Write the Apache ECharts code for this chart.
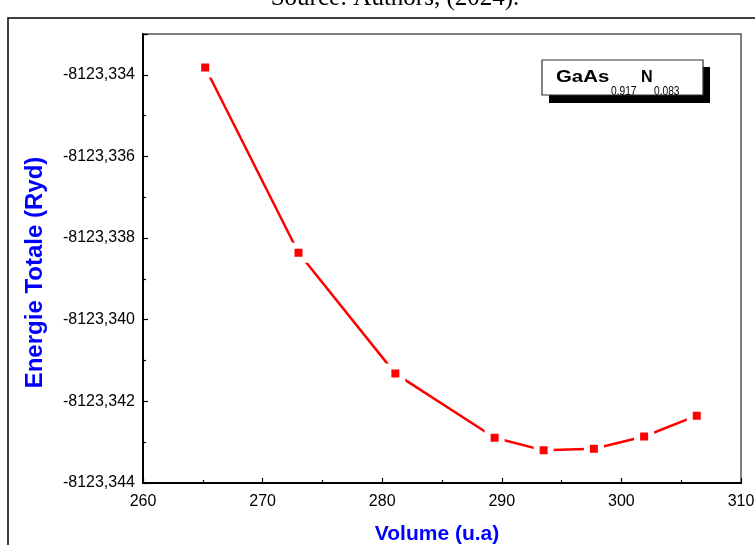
<!DOCTYPE html>
<html>
<head>
<meta charset="utf-8">
<script src="https://cdn.jsdelivr.net/npm/echarts@6/dist/echarts.min.js"></script>
<style>
html,body{margin:0;padding:0;background:#fff;}
#chart{width:755px;height:545px;}
</style>
</head>
<body>
<div id="chart"></div>
<script>
// Data
var volume = [265.2, 273.0, 281.1, 289.4, 293.5, 297.7, 301.9, 306.3];
var energy = [-8123.33382, -8123.33836, -8123.34132, -8123.34289, -8123.34320, -8123.34316, -8123.34286, -8123.34235];
var xTicks = [260, 270, 280, 290, 300, 310];
var yTicks = [-8123.344, -8123.342, -8123.340, -8123.338, -8123.336, -8123.334];
var xTitle = 'Volume (u.a)';
var yTitle = 'Energie Totale (Ryd)';
var sourceText = 'Source: Authors, (2024).';
var compound = ['GaAs', '0.917', 'N', '0.083'];

var pts = volume.map(function (v, i) { return [v, energy[i]]; });

var chart = echarts.init(document.getElementById('chart'), null, {renderer: 'canvas'});
var blue = '#0000ff';
var option = {
  animation: false,
  backgroundColor: '#fff',
  grid: {left: 143, right: 14, top: 34, bottom: 62, outerBoundsMode: 'none', containLabel: false,
    show: true, borderColor: '#555', borderWidth: 1.5, backgroundColor: 'transparent'},
  xAxis: {
    type: 'value', min: xTicks[0], max: xTicks[xTicks.length - 1], interval: 10,
    name: xTitle, nameLocation: 'middle', nameGap: 41,
    nameTextStyle: {color: blue, fontSize: 21, fontWeight: 'bold', fontFamily: 'Liberation Sans', padding: [0, 10, 0, 0]},
    axisLine: {show: true, lineStyle: {color: '#000', width: 2}},
    axisTick: {show: true, inside: true, length: 5, lineStyle: {color: '#000', width: 1.2}},
    minorTick: {show: true, splitNumber: 2, length: 3, lineStyle: {color: '#000', width: 1.2}},
    axisLabel: {color: '#000', fontSize: 16, fontFamily: 'Liberation Sans', margin: 11},
    splitLine: {show: false}
  },
  yAxis: {
    type: 'value', min: yTicks[0], max: -8123.333, interval: 0.002,
    name: yTitle, nameLocation: 'middle', nameGap: 96, nameRotate: 90,
    nameTextStyle: {color: blue, fontSize: 24, fontWeight: 'bold', fontFamily: 'Liberation Sans', padding: [0, 28, 0, 0]},
    axisLine: {show: true, lineStyle: {color: '#000', width: 2}},
    axisTick: {show: true, inside: true, length: 5, lineStyle: {color: '#000', width: 1.2}},
    minorTick: {show: true, splitNumber: 2, length: 3, lineStyle: {color: '#000', width: 1.2}},
    axisLabel: {
      color: '#000', fontSize: 16, fontFamily: 'Liberation Sans', margin: 8, showMaxLabel: false,
      formatter: function (v) {
        var t = yTicks.find(function (y) { return Math.abs(y - v) < 1e-7; });
        return t === undefined ? '' : t.toFixed(3).replace('.', ',');
      }
    },
    splitLine: {show: false}
  },
  series: [{
    type: 'line', data: pts, z: 5,
    lineStyle: {color: '#ff0000', width: 2.5},
    symbol: 'rect', symbolSize: 14,
    itemStyle: {color: '#ff0000', borderColor: '#fff', borderWidth: 6}
  }],
  graphic: [
    {type: 'rect', shape: {x: 8, y: 18, width: 760, height: 540}, style: {fill: 'none', stroke: '#000', lineWidth: 1.5}, z: 100},
    {type: 'text', x: 395, y: -2, style: {text: sourceText, fontFamily: 'Liberation Serif', fontSize: 25, fill: '#000', textAlign: 'center', textVerticalAlign: 'middle'}, z: 100},
    {type: 'rect', shape: {x: 549, y: 67, width: 161, height: 36}, style: {fill: '#000'}, z: 100},
    {type: 'rect', shape: {x: 542, y: 60, width: 161, height: 35}, style: {fill: '#fff', stroke: '#333', lineWidth: 1.2}, z: 101},
    {type: 'text', x: 556, y: 77.5, scaleX: 1.2, style: {text: compound[0], fontFamily: 'Liberation Sans', fontWeight: 'bold', fontSize: 17, fill: '#000', textAlign: 'left', textVerticalAlign: 'middle'}, z: 102},
    {type: 'text', x: 611, y: 91.5, scaleX: 0.85, style: {text: compound[1], fontFamily: 'Liberation Sans', fontSize: 12, fill: '#000', textAlign: 'left', textVerticalAlign: 'middle'}, z: 102},
    {type: 'text', x: 641, y: 77.5, scaleX: 0.95, style: {text: compound[2], fontFamily: 'Liberation Sans', fontWeight: 'bold', fontSize: 17, fill: '#000', textAlign: 'left', textVerticalAlign: 'middle'}, z: 102},
    {type: 'text', x: 654, y: 91.5, scaleX: 0.85, style: {text: compound[3], fontFamily: 'Liberation Sans', fontSize: 12, fill: '#000', textAlign: 'left', textVerticalAlign: 'middle'}, z: 102}
  ]
};
chart.setOption(option);
</script>
</body>
</html>
